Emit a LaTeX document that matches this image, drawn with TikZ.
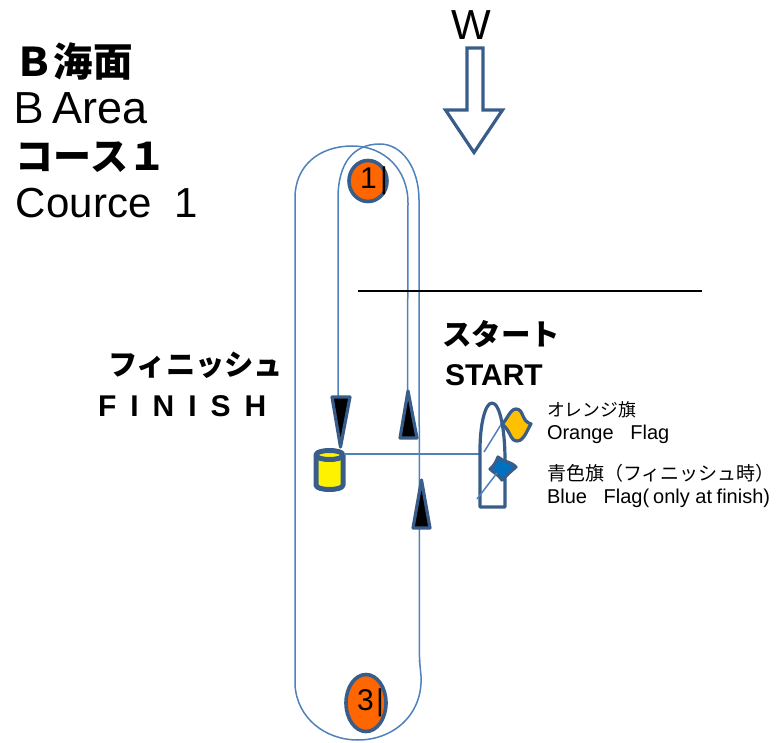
\documentclass[tikz,border=0pt]{standalone}
\usepackage{fontspec}
\setmainfont{Liberation Sans}
\newfontfamily\jp{Noto Sans CJK JP}
\definecolor{course}{HTML}{4F81BD}
\definecolor{mk}{HTML}{385D8A}
\definecolor{buoy}{HTML}{FF6600}
\definecolor{oflag}{HTML}{FFC000}
\definecolor{bflag}{HTML}{0070C0}
\usetikzlibrary{shapes.geometric}
\tikzset{
  lbl/.style={anchor=base west,inner sep=0pt,outer sep=0pt,text=black},
  track/.style={draw=course,line width=1.5pt},
  outline/.style={draw=mk,line width=3.2pt,line join=round},
  heavy/.style={draw=mk,line width=5pt,line join=round},
  buoymark/.style={ellipse,draw=mk,fill=buoy,line width=3.6pt,inner sep=0pt,font=\fontsize{30}{30}\selectfont},
  tri/.style={draw=mk,line width=3.2pt,fill=black,line join=round},
}
\begin{document}
\begin{tikzpicture}[x=1pt,y=-1pt]
\useasboundingbox (0,0) rectangle (779,743);
% course
\draw[track] (295,685) -- (295,198) .. controls (295,165) and (320,146) .. (352,146) .. controls (385,146) and (408,170) .. (408,203) -- (407.5,390);
\draw[track] (338,400) -- (338,198) .. controls (338,165) and (352,144) .. (380,144) .. controls (402,144) and (419,168) .. (419,200) -- (419.5,662);
\draw[track] (295,685) .. controls (297,718) and (325,740) .. (358,740) .. controls (393,740) and (423,715) .. (421,676) -- (419.5,660);
% wind arrow
\node[lbl,font=\fontsize{42}{42}\selectfont] (w) at (451,40) {W};
\draw[outline,line join=miter] (467,48) -- (483,48) -- (483,110) -- (502.5,110) -- (474,152.5) -- (445.5,110) -- (467,110) -- cycle;
% start line
\coordinate (lineA) at (358,291);
\coordinate (lineB) at (702,291);
\draw[black,line width=1.6pt] (lineA) -- (lineB);
% buoys
\node[buoymark,minimum width=38pt,minimum height=41pt] (b1) at (368,181) {\makebox[0pt]{\hspace{12pt}1\hspace{3.2pt}|}};
\node[buoymark,minimum width=40pt,minimum height=57pt] (b3) at (366,703) {\makebox[0pt]{\hspace{9pt}3\hspace{2.2pt}|}};
% finish mark
\draw[heavy,fill=yellow] (316,455) -- (316,485) .. controls (316,491) and (343,491) .. (343,485) -- (343,455) .. controls (343,449) and (316,449) .. (316,455) -- cycle;
\draw[heavy] (316,455) .. controls (316,461) and (343,461) .. (343,455);
% finish line
\draw[track] (344,454) -- (481,454);
% triangles
\draw[tri] (332,397) -- (350,397) -- (340.5,447) -- cycle;
\draw[tri] (408,391) -- (417,438) -- (400,438) -- cycle;
\draw[tri] (421.5,480) -- (430,528) -- (413,528) -- cycle;
% boat
\draw[outline,fill=white] (480,507) -- (480,450) .. controls (480,425) and (485,403) .. (492,403) .. controls (500,403) and (505,430) .. (505,460) -- (505,507) -- cycle;
% flag poles and flags
\draw[track] (484,452) -- (502,423);
\draw[outline,fill=oflag] (502,424) .. controls (507,420) and (510,409) .. (516,409) .. controls (524,409) and (521,421) .. (531,424) .. controls (527,430) and (524,441) .. (517,441) .. controls (510,441) and (511,431) .. (502,424) -- cycle;
\draw[outline,fill=bflag] (498,457) .. controls (503,462) and (510,461) .. (516,467) .. controls (511,471) and (507,475) .. (502,480) .. controls (498,474) and (494,473) .. (490,469) .. controls (494,466) and (496,462) .. (498,457) -- cycle;
\draw[track] (477,499) -- (497,473);
% titles
\node[lbl,font=\jp\bfseries\fontsize{39.5}{40}\selectfont] (t1) at (14,77) {Ｂ海面};
\node[lbl,font=\jp\fontsize{42}{42}\selectfont] (t2a) at (8,124) {Ｂ};
\node[lbl,font=\fontsize{45}{45}\selectfont] (t2b) at (52,124) {Area};
\node[lbl,font=\jp\bfseries\fontsize{38}{38}\selectfont] (t3) at (16,171) {コース１};
\node[lbl,font=\fontsize{42}{42}\selectfont] (t4) at (16,218) {Cource\ \ 1};
% labels
\node[lbl,font=\jp\bfseries\fontsize{29.5}{30}\selectfont] (s1) at (442,345) {スタート};
\node[lbl,font=\bfseries\fontsize{30}{30}\selectfont] (s2) at (445,385) {START};
\node[lbl,font=\jp\bfseries\fontsize{29.3}{30}\selectfont] (f1) at (108,375) {フィニッシュ};
\node[lbl,font=\bfseries\fontsize{30}{30}\selectfont] (f2) at (98,416) {F\hspace{14pt}I\hspace{14pt}N\hspace{14pt}I\hspace{14pt}S\hspace{14pt}H};
\node[lbl,font=\jp\fontsize{17.8}{18}\selectfont] (o1) at (547,416) {オレンジ旗};
\node[lbl,font=\fontsize{20}{20}\selectfont] (o2) at (547,439) {Orange\ \ \ Flag};
\node[lbl,font=\jp\fontsize{19}{19}\selectfont] (c1) at (547,480) {青色旗（フィニッシュ時）};
\node[lbl,font=\fontsize{20}{20}\selectfont] (c2) at (547,503) {Blue\ \ \ Flag(\hspace{4pt}only at\hspace{-1pt} finish)};
\end{tikzpicture}
\end{document}
